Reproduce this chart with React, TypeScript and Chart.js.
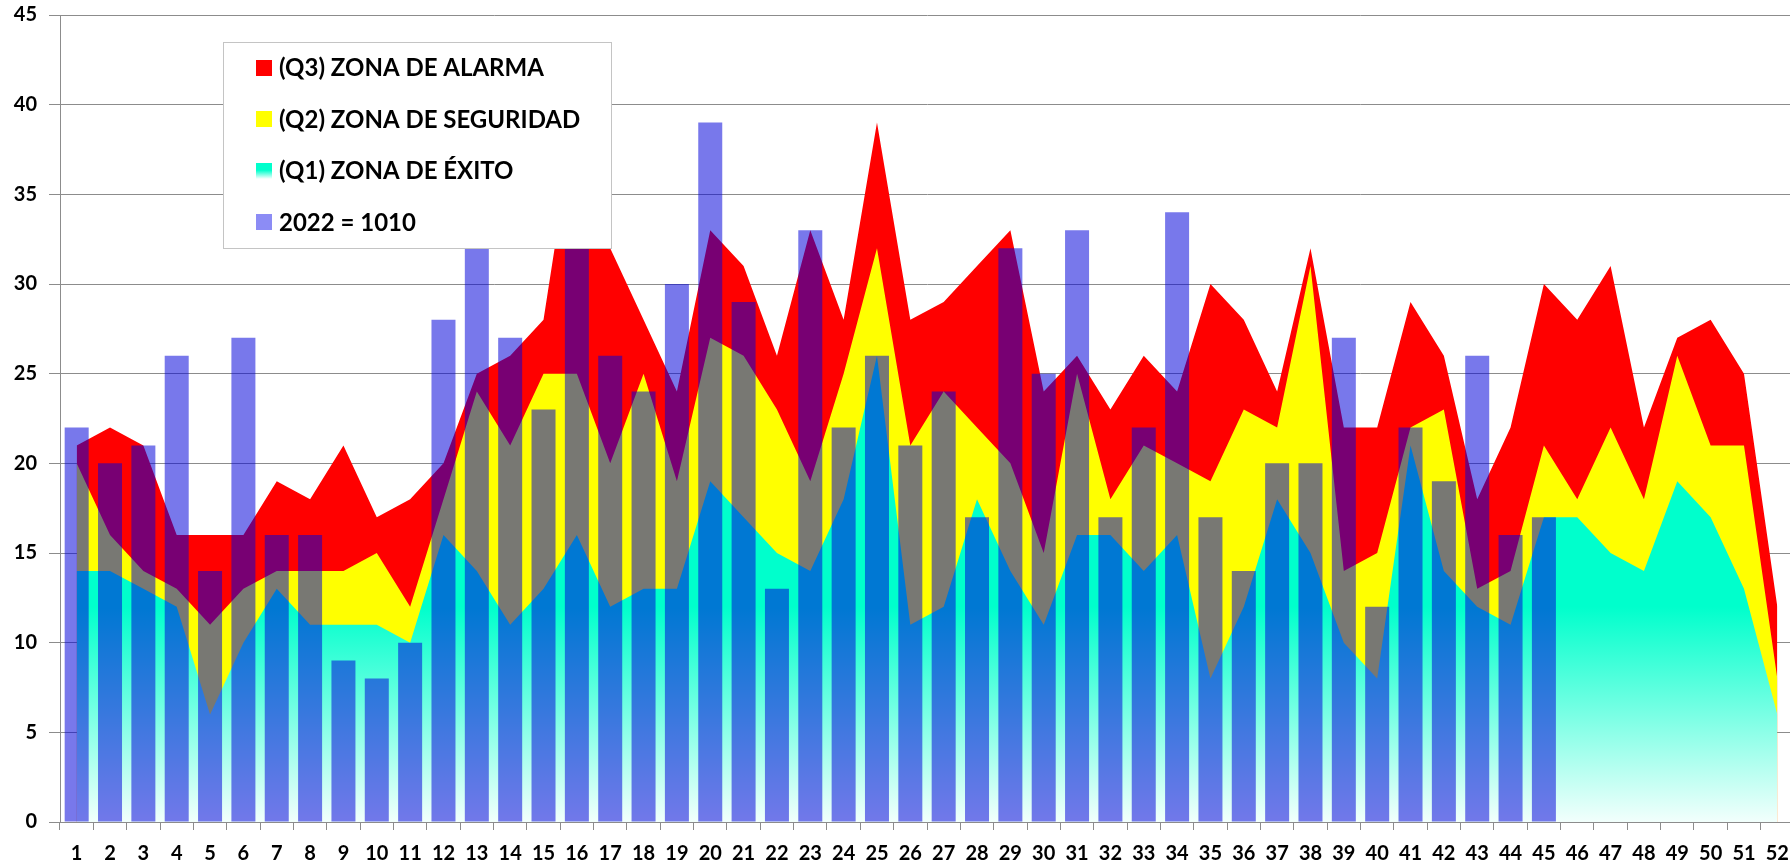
import React, { useEffect, useRef } from "react";
import { Chart, registerables } from "chart.js";

Chart.register(...registerables);

// ---- Data ----
const weekLabels = [
  "1","2","3","4","5","6","7","8","9","10","11","12","13","14","15","16","17","18","19","20",
  "21","22","23","24","25","26","27","28","29","30","31","32","33","34","35","36","37","38","39","40",
  "41","42","43","44","45","46","47","48","49","50","51","52",
];

const q3Alarma = [
  21, 22, 21, 16, 16, 16, 19, 18, 21, 17, 18, 20, 25, 26, 28, 40, 32, 28, 24, 33,
  31, 26, 33, 28, 39, 28, 29, 31, 33, 24, 26, 23, 26, 24, 30, 28, 24, 32, 22, 22,
  29, 26, 18, 22, 30, 28, 31, 22, 27, 28, 25, 12,
];

const q2Seguridad = [
  20, 16, 14, 13, 11, 13, 14, 14, 14, 15, 12, 18, 24, 21, 25, 25, 20, 25, 19, 27,
  26, 23, 19, 25, 32, 21, 24, 22, 20, 15, 25, 18, 21, 20, 19, 23, 22, 31, 14, 15,
  22, 23, 13, 14, 21, 18, 22, 18, 26, 21, 21, 8,
];

const q1Exito = [
  14, 14, 13, 12, 6, 10, 13, 11, 11, 11, 10, 16, 14, 11, 13, 16, 12, 13, 13, 19,
  17, 15, 14, 18, 26, 11, 12, 18, 14, 11, 16, 16, 14, 16, 8, 12, 18, 15, 10, 8,
  21, 14, 12, 11, 17, 17, 15, 14, 19, 17, 13, 6,
];

const cases2022 = [
  22, 20, 21, 26, 14, 27, 16, 16, 9, 8, 10, 28, 33, 27, 23, 33, 26, 24, 30, 39,
  29, 13, 33, 22, 26, 21, 24, 17, 32, 25, 33, 17, 22, 34, 17, 14, 20, 20, 27, 12,
  22, 19, 26, 16, 17, null, null, null, null, null, null, null,
];

const seriesNames = [
  "(Q3) ZONA DE ALARMA",
  "(Q2) ZONA DE SEGURIDAD",
  "(Q1) ZONA DE ÉXITO",
  "2022 = 1010",
];

const yMin = 0;
const yMax = 45;
const yStep = 5;

// ---- Styles ----
const GRID = "#8c8c8c";
const TICK_FONT = { family: "Lato, 'DejaVu Sans', sans-serif", size: 20, weight: "bold" as const };

function cyanFill(chart: any) {
  const { ctx, chartArea, scales } = chart;
  if (!chartArea || !scales.y) return "#00ffcc";
  const yTop = scales.y.getPixelForValue(12);
  const yBot = scales.y.getPixelForValue(0);
  const g = ctx.createLinearGradient(0, yTop, 0, yBot);
  g.addColorStop(0, "#00ffcc");
  g.addColorStop(1, "#f2fffc");
  return g;
}

const boxLegend = {
  id: "boxLegend",
  afterDraw(chart: any) {
    const ctx = chart.ctx as CanvasRenderingContext2D;
    ctx.save();
    const bx = 223.5, by = 42.5, bw = 388, bh = 206;
    ctx.fillStyle = "#ffffff";
    ctx.fillRect(bx, by, bw, bh);
    ctx.strokeStyle = "#c4c4c4";
    ctx.lineWidth = 1;
    ctx.strokeRect(bx, by, bw, bh);

    const rows = [67.5, 119, 170.5, 222];
    const mx = 256, ms = 16;
    rows.forEach((ry, i) => {
      const top = Math.round(ry - ms / 2);
      if (i === 0) ctx.fillStyle = "#ff0000";
      else if (i === 1) ctx.fillStyle = "#ffff00";
      else if (i === 2) {
        const g = ctx.createLinearGradient(0, top, 0, top + ms);
        g.addColorStop(0, "#00ffcc");
        g.addColorStop(0.45, "#00ffcc");
        g.addColorStop(1, "#ffffff");
        ctx.fillStyle = g;
      } else ctx.fillStyle = "#8c8cf5";
      ctx.fillRect(mx, top, ms, ms);
      ctx.fillStyle = "#000000";
      ctx.font = "bold 24px Lato, 'DejaVu Sans', sans-serif";
      ctx.textBaseline = "middle";
      ctx.textAlign = "left";
      ctx.fillText(seriesNames[i], 279, ry + 1);
    });
    ctx.restore();
  },
};

export default function App() {
  const canvasRef = useRef<HTMLCanvasElement | null>(null);

  useEffect(() => {
    const canvas = canvasRef.current;
    if (!canvas) return;
    const chart = new Chart(canvas, {
      type: "bar",
      data: {
        labels: weekLabels,
        datasets: [
          {
            type: "bar",
            label: seriesNames[3],
            data: cases2022 as any,
            backgroundColor: "rgba(0,0,217,0.53)",
            borderWidth: 0,
            barPercentage: 0.72,
            categoryPercentage: 1,
            order: 0,
          },
          {
            type: "line",
            label: seriesNames[2],
            data: q1Exito,
            backgroundColor: (c: any) => cyanFill(c.chart),
            borderColor: "rgba(0,0,0,0)",
            borderWidth: 0,
            pointRadius: 0,
            fill: "origin",
            tension: 0,
            order: 1,
          },
          {
            type: "line",
            label: seriesNames[1],
            data: q2Seguridad,
            backgroundColor: "#ffff00",
            borderColor: "rgba(0,0,0,0)",
            borderWidth: 0,
            pointRadius: 0,
            fill: "origin",
            tension: 0,
            order: 2,
          },
          {
            type: "line",
            label: seriesNames[0],
            data: q3Alarma,
            backgroundColor: "#ff0000",
            borderColor: "rgba(0,0,0,0)",
            borderWidth: 0,
            pointRadius: 0,
            fill: "origin",
            tension: 0,
            order: 3,
          },
        ],
      },
      options: {
        responsive: false,
        animation: false,
        devicePixelRatio: 1,
        layout: { padding: { top: 15, left: 0, right: 0, bottom: 0 } },
        plugins: {
          legend: { display: false },
          tooltip: { enabled: false },
        },
        scales: {
          x: {
            type: "category",
            offset: true,
            grid: {
              offset: true,
              drawOnChartArea: false,
              drawTicks: true,
              tickLength: 8,
              color: GRID,
            },
            border: { display: true, color: GRID, width: 1 },
            ticks: {
              color: "#000",
              font: TICK_FONT,
              padding: 12,
              maxRotation: 0,
              autoSkip: false,
            },
            afterFit: (s: any) => {
              s.height = 46;
              s.paddingLeft = 0;
              s.paddingRight = 0;
            },
          },
          y: {
            min: yMin,
            max: yMax,
            grid: { color: GRID, tickLength: 11, drawTicks: true },
            border: { display: true, color: GRID, width: 1 },
            ticks: {
              stepSize: yStep,
              color: "#000",
              font: TICK_FONT,
              padding: 12,
            },
            afterFit: (s: any) => {
              s.width = 60;
              s.paddingTop = 0;
              s.paddingBottom = 0;
            },
          },
        },
      },
      plugins: [boxLegend],
    });
    return () => chart.destroy();
  }, []);

  return (
    <div
      style={{
        position: "absolute",
        left: 0,
        top: 0,
        width: 1790,
        height: 868,
        overflow: "hidden",
        background: "#ffffff",
      }}
    >
      <canvas
        ref={canvasRef}
        width={1794}
        height={868}
        style={{ display: "block", width: 1794, height: 868 }}
      />
    </div>
  );
}
